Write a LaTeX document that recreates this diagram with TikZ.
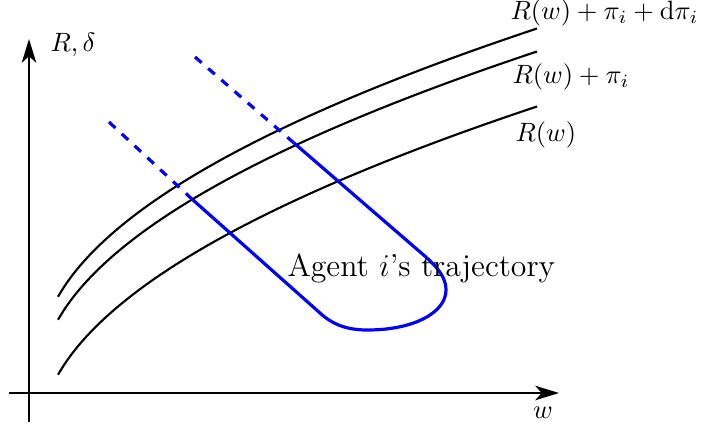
\documentclass[tikz,border=0pt]{standalone}
\usetikzlibrary{arrows.meta}
\begin{document}
\begin{tikzpicture}[x=0.3775pt, y=-0.3775pt,
  axis/.style={line width=0.7pt, -{Stealth[length=9pt,width=5.5pt,inset=2.5pt]}},
  curve/.style={line width=0.8pt},
  traj/.style={blue, line width=1.2pt},
  trajdash/.style={traj, dash pattern=on 3.3pt off 3.3pt},
  lbl/.style={inner sep=0pt}]
\useasboundingbox (0,0) rectangle (702,431);
% axes
\coordinate (yb) at (29,422);
\coordinate (yt) at (29,39);
\coordinate (xl) at (9,393);
\coordinate (xr) at (559,393);
\draw[axis] (yb) -- (yt);
\draw[axis] (xl) -- (xr);
\node[lbl, anchor=west] (ylab) at (50,45) {$R,\delta$};
\node[lbl] (xlab) at (543,413) {$w$};
% curves
\draw[curve] plot[domain=58:537, samples=80, smooth] (\x, {373 - 14.86*(sqrt(\x-40) - 4.3589)});
\draw[curve] plot[domain=58:537, samples=80, smooth] (\x, {373 - 55 - 14.86*(sqrt(\x-40) - 4.3589)});
\draw[curve] plot[domain=58:537, samples=80, smooth] (\x, {373 - 78 - 14.86*(sqrt(\x-40) - 4.3589)});
\node[lbl, anchor=west] (l3) at (510,13) {$R(w)+\pi_i+\mathrm{d}\pi_i$};
\node[lbl, anchor=west] (l2) at (512,77) {$R(w)+\pi_i$};
\node[lbl, anchor=west] (l1) at (515,135) {$R(w)$};
% trajectory
\coordinate (a0) at (109,122);
\coordinate (a1) at (193,200);
\coordinate (b0) at (195,57);
\coordinate (b1) at (294,143);
\draw[trajdash] (a0) -- (a1);
\draw[trajdash] (b0) -- (b1);
\draw[traj] (a1) -- (320,313) .. controls (333,325) and (348,330) .. (367,330)
  .. controls (415,330) and (446,312) .. (446,290)
  .. controls (446,272) and (428,259) .. (412,245) -- (b1);
\node[lbl, anchor=base west, font=\large] (ag) at (287,276) {Agent $i$'s trajectory};
\end{tikzpicture}
\end{document}
